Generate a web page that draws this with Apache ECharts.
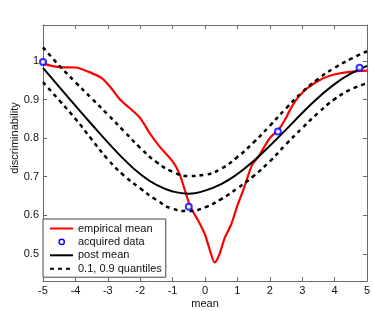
<!DOCTYPE html>
<html><head><meta charset="utf-8">
<script src="https://cdn.jsdelivr.net/npm/echarts@6/dist/echarts.min.js"></script>
<style>html,body{margin:0;padding:0;background:#fff}#c{width:373px;height:311px}</style>
</head><body><div id="c"></div>
<script>
// x positions of the model curves
const gridX = [-5,-4.5,-4,-3.5,-3,-2.5,-2,-1.5,-1,-0.5,0,0.5,1,1.5,2,2.5,3,3.5,4,4.5,5];
const postMean = [0.982,0.933,0.884,0.836,0.789,0.745,0.707,0.679,0.662,0.656,0.664,0.681,0.707,0.741,0.780,0.822,0.865,0.905,0.940,0.967,0.987];
const upperQ  = [1.035,0.988,0.945,0.903,0.861,0.818,0.775,0.738,0.713,0.702,0.705,0.721,0.751,0.789,0.832,0.877,0.919,0.954,0.982,1.005,1.025];
const lowerQ  = [0.945,0.898,0.850,0.797,0.745,0.703,0.670,0.640,0.617,0.611,0.621,0.642,0.670,0.702,0.740,0.784,0.826,0.866,0.901,0.926,0.942];
// empirical mean (red)
const empX = [-5,-4.5,-4,-3.6,-3.2,-2.9,-2.6,-2.3,-2,-1.7,-1.4,-1,-0.8,-0.6,-0.45,-0.2,0,0.15,0.3,0.45,0.6,0.8,1,1.2,1.45,1.65,2,2.25,2.45,2.65,2.85,3.15,3.65,4.17,4.78,5];
const empY = [0.993,0.984,0.983,0.972,0.956,0.930,0.898,0.876,0.852,0.812,0.778,0.740,0.710,0.660,0.622,0.585,0.550,0.510,0.478,0.500,0.540,0.575,0.625,0.670,0.730,0.752,0.800,0.820,0.845,0.877,0.903,0.929,0.955,0.968,0.974,0.975];
// acquired data (blue circles)
const acqX = [-5,-0.5,2.25,4.77];
const acqY = [0.997,0.622,0.817,0.982];
const yTicks = [0.5,0.6,0.7,0.8,0.9,1];

const zip = (a,b) => a.map((v,i)=>[v,b[i]]);
const axisCol = '#6b6b6b';
const font = 'Liberation Sans, Arial, sans-serif';
// small ring icon inside a 23x10 box (corner specks fix the box size)
const ringIcon = 'path://M0,0h0.01v0.01h-0.01ZM23,10h-0.01v-0.01h0.01Z' +
  'M15,5A3.3,3.3 0 1,0 8.4,5A3.3,3.3 0 1,0 15,5Z' +
  'M13.6,5A1.9,1.9 0 1,1 9.8,5A1.9,1.9 0 1,1 13.6,5Z';

const chart = echarts.init(document.getElementById('c'));
chart.setOption({
  animation:false,
  backgroundColor:'#fff',
  grid:{left:43,right:6,top:25,bottom:30,outerBoundsMode:'none',containLabel:false},
  xAxis:[
    {type:'value',min:-5,max:5,interval:1,position:'bottom',
     name:'mean',nameLocation:'middle',nameGap:17,nameMoveOverlap:false,
     nameTextStyle:{color:'#111',fontSize:11,fontFamily:font},
     axisLine:{onZero:false,lineStyle:{color:axisCol,width:1}},
     axisTick:{inside:true,length:4,lineStyle:{color:axisCol}},
     axisLabel:{color:'#111',fontSize:11,fontFamily:font,margin:4},
     splitLine:{show:false}},
    {type:'value',min:-5,max:5,interval:1,position:'top',
     axisLine:{onZero:false,lineStyle:{color:axisCol,width:1}},
     axisTick:{inside:true,length:4,lineStyle:{color:axisCol}},
     axisLabel:{show:false},splitLine:{show:false}}
  ],
  yAxis:[
    {type:'value',min:0.43,max:1.093,position:'left',
     name:'discriminability',nameLocation:'middle',nameGap:23,nameMoveOverlap:false,
     nameTextStyle:{color:'#111',fontSize:11,fontFamily:font,padding:[0,0,0,30]},
     axisLine:{onZero:false,lineStyle:{color:axisCol,width:1}},
     axisTick:{inside:true,length:4,customValues:yTicks,lineStyle:{color:axisCol}},
     axisLabel:{color:'#111',fontSize:11,fontFamily:font,margin:4,customValues:yTicks},
     splitLine:{show:false}},
    {type:'value',min:0.43,max:1.093,position:'right',
     axisLine:{onZero:false,lineStyle:{color:axisCol,width:1}},
     axisTick:{inside:true,length:4,customValues:yTicks,lineStyle:{color:axisCol}},
     axisLabel:{show:false},splitLine:{show:false}}
  ],
  legend:{
    orient:'vertical',left:43,top:219,
    backgroundColor:'#fff',borderColor:'#444',borderWidth:1,borderRadius:0,
    padding:[4,4,3,6],itemGap:2.4,itemWidth:23,itemHeight:10,
    itemStyle:{opacity:0},
    textStyle:{color:'#111',fontSize:11,fontFamily:font},
    data:[
      {name:'empirical mean'},
      {name:'acquired data',icon:ringIcon,itemStyle:{opacity:1,color:'#0000ff',borderWidth:0}},
      {name:'post mean'},
      {name:'0.1, 0.9 quantiles'}
    ]
  },
  series:[
    {name:'empirical mean',type:'line',data:zip(empX,empY),smooth:0.3,symbol:'none',
     lineStyle:{color:'#ff0000',width:2.2},itemStyle:{color:'#ff0000'},z:2},
    {name:'post mean',type:'line',data:zip(gridX,postMean),smooth:true,symbol:'none',
     lineStyle:{color:'#000',width:2},itemStyle:{color:'#000'},z:3},
    {name:'0.1, 0.9 quantiles',type:'line',data:zip(gridX,upperQ),smooth:true,symbol:'none',
     lineStyle:{color:'#000',width:2.5,type:[4,4]},itemStyle:{color:'#000'},z:3},
    {name:'0.1, 0.9 quantiles',type:'line',data:zip(gridX,lowerQ),smooth:true,symbol:'none',
     lineStyle:{color:'#000',width:2.5,type:[4,4]},itemStyle:{color:'#000'},z:3},
    {name:'acquired data',type:'scatter',data:zip(acqX,acqY),symbol:'emptyCircle',symbolSize:6,
     itemStyle:{color:'#0000ff',borderColor:'#0000ff',borderWidth:2},z:5}
  ]
});
</script></body></html>
